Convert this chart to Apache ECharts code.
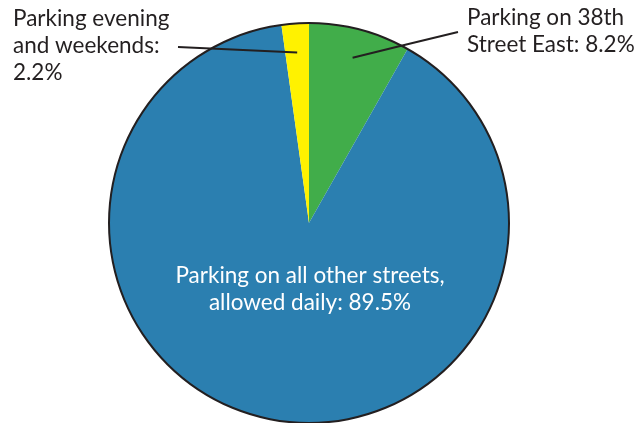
<!DOCTYPE html>
<html>
<head>
<meta charset="utf-8">
<script src="https://cdn.jsdelivr.net/npm/echarts@6/dist/echarts.min.js"></script>
<style>
  html, body { margin: 0; padding: 0; background: #fff; }
  #parkChart { width: 642px; height: 423px; }
</style>
</head>
<body>
<div id="parkChart"></div>
<script>
var parkChart = echarts.init(document.getElementById('parkChart'));

// slices, clockwise from 12 o'clock
let names = ['Parking on 38th\nStreet East', 'Parking on all other streets,\nallowed daily', 'Parking evening\nand weekends'];
let values = [8.2, 89.5, 2.2];
let seps = [': ', ': ', ':\n'];
let colors = ['#41ad4a', '#2b7fb0', '#fff200'];

let cx = 309, cy = 223, r = 200;
let textColor = '#231f20';

// where each label goes, and where its leader line ends
let labelPos = [
    { x: 467, y: 4, align: 'left', verticalAlign: 'top', end: [458, 32] },
    { x: 310, y: 289, align: 'center', verticalAlign: 'middle' },
    { x: 13, y: 5, align: 'left', verticalAlign: 'top', end: [178, 47] }
];

let fillData = names.map((n, i) => ({
    name: n,
    value: values[i],
    itemStyle: { color: colors[i] }
}));

// same slices again, invisible, only to carry the labels above everything
let labelData = names.map((n, i) => {
    let item = { name: n, value: values[i] };
    if (i === 1) {
        item.label = { position: 'inside', color: '#fff' };
        item.labelLine = { show: false };
    }
    return item;
});

option = {
    backgroundColor: '#fff',
    animation: false,
    series: [{
        type: 'pie',
        center: [cx, cy],
        radius: r,
        startAngle: 90,
        clockwise: true,
        silent: true,
        data: fillData,
        itemStyle: { borderWidth: 0 },
        label: { show: false },
        labelLine: { show: false }
    }, {
        // outline round the whole pie
        type: 'pie',
        center: [cx, cy],
        radius: [r - 1, r + 1],
        silent: true,
        data: [1],
        itemStyle: { color: textColor },
        label: { show: false },
        labelLine: { show: false }
    }, {
        type: 'pie',
        z: 5,
        center: [cx, cy],
        radius: r,
        startAngle: 90,
        clockwise: true,
        silent: true,
        data: labelData,
        itemStyle: { color: 'rgba(0,0,0,0)', borderWidth: 0 },
        label: {
            show: true,
            position: 'outside',
            formatter: p => p.name + seps[p.dataIndex] + p.value + '%',
            fontFamily: 'Lato',
            fontSize: 22.5,
            lineHeight: 27,
            color: textColor
        },
        labelLine: {
            show: true,
            lineStyle: { color: textColor, width: 2 }
        },
        labelLayout: params => {
            let lp = labelPos[params.dataIndex];
            let res = { x: lp.x, y: lp.y, align: lp.align, verticalAlign: lp.verticalAlign };
            if (lp.end && params.labelLinePoints) {
                let p0 = params.labelLinePoints[0];
                let s = [cx + (p0[0] - cx) * 0.855, cy + (p0[1] - cy) * 0.855];
                res.labelLinePoints = [s, [(s[0] + lp.end[0]) / 2, (s[1] + lp.end[1]) / 2], lp.end];
            }
            return res;
        }
    }]
};
parkChart.setOption(option);
</script>
</body>
</html>
